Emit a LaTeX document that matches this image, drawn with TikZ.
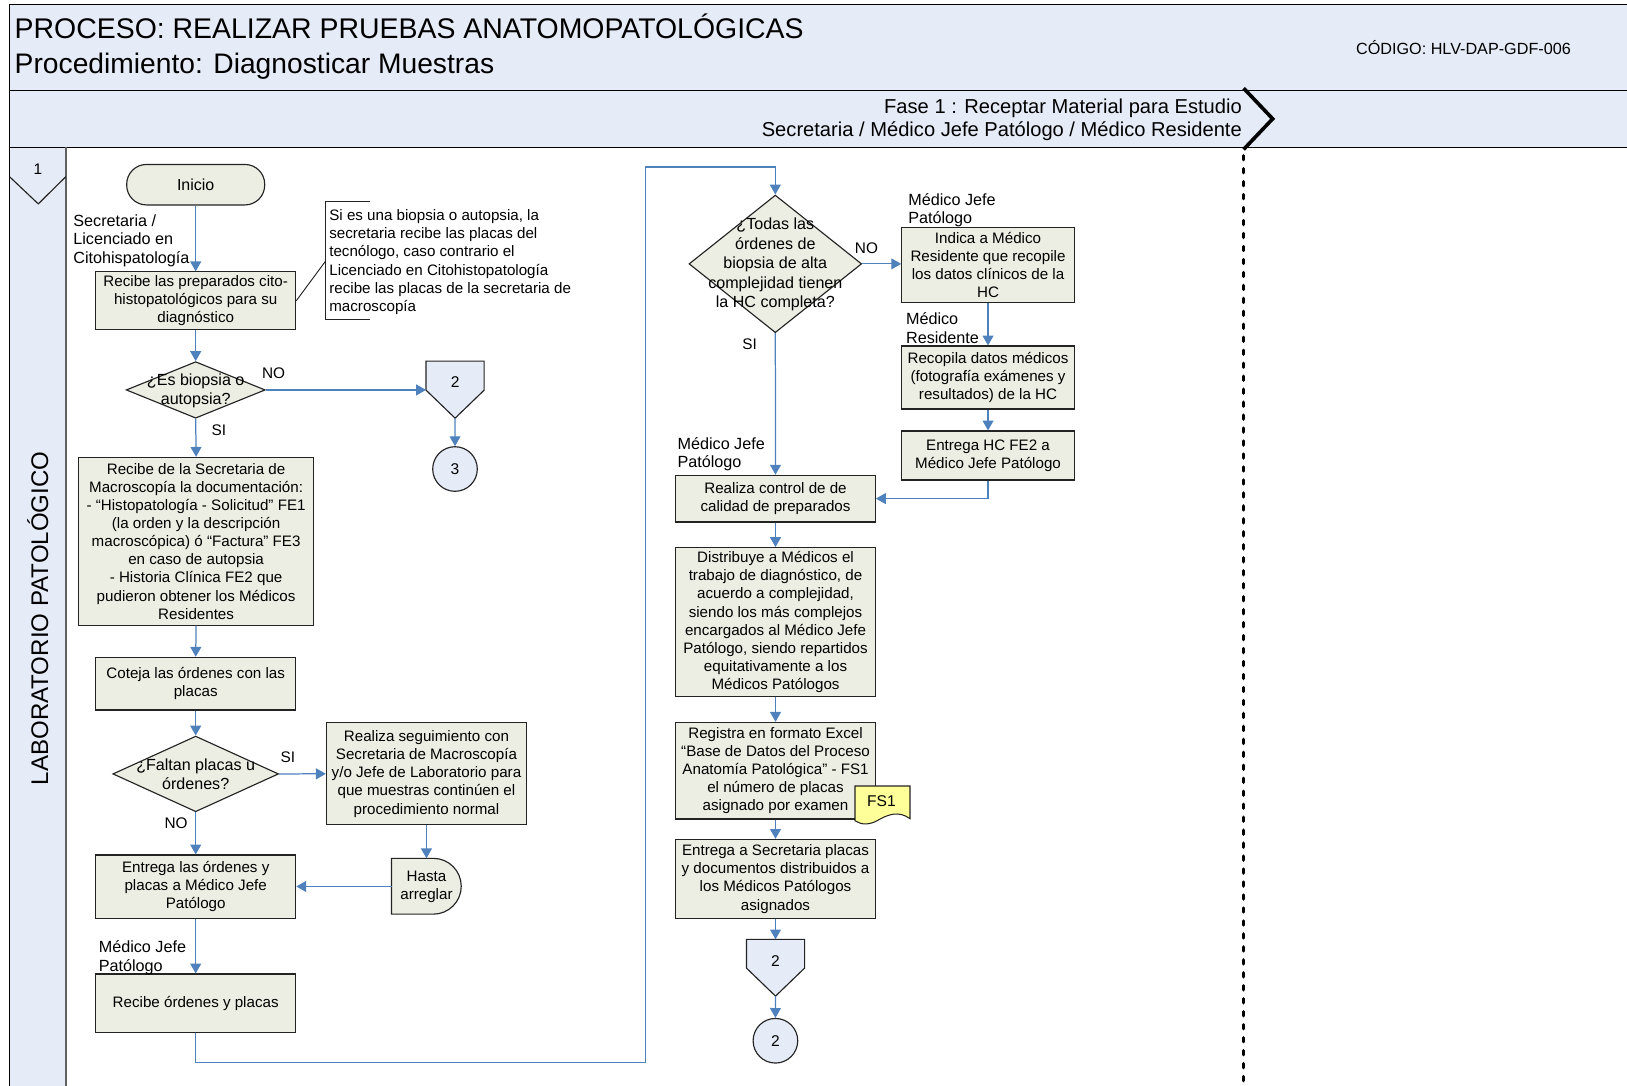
\documentclass[tikz,border=0pt]{standalone}
\usepackage{fontspec}
\setmainfont{Liberation Sans}
\usetikzlibrary{arrows.meta,shapes.geometric}

\definecolor{bandblue}{RGB}{230,236,247}
\definecolor{procfill}{RGB}{237,238,227}
\definecolor{flowblue}{RGB}{79,129,189}
\definecolor{docyellow}{RGB}{255,255,153}
\definecolor{edgegray}{RGB}{35,35,35}

\tikzset{
  bodytext/.style={font=\fontsize{14.6}{17.5}\selectfont},
  proc/.style={draw=edgegray, fill=procfill, line width=1.1pt, inner sep=0pt, align=center, bodytext},
  decision/.style={diamond, draw=edgegray, fill=procfill, line width=1.1pt, inner sep=0pt},
  dectext/.style={font=\fontsize{15.5}{18.8}\selectfont, align=center, inner sep=0pt},
  lbl/.style={anchor=west, align=left, inner sep=0pt, font=\fontsize{15.6}{18.2}\selectfont},
  tag/.style={inner sep=0pt, font=\fontsize{14.8}{17.5}\selectfont},
  flow/.style={draw=flowblue, line width=1.2pt, -{Triangle[length=9.5pt,width=10.5pt]}},
  conn/.style={circle, draw=edgegray, fill=bandblue, line width=1.1pt, inner sep=0pt, minimum size=43pt, font=\fontsize{15}{18}\selectfont},
  offpage/.style={draw=edgegray, fill=bandblue, line width=1.1pt},
  frame/.style={draw=black, line width=1.2pt},
}

\begin{document}
\begin{tikzpicture}[x=1pt,y=-1pt]
\useasboundingbox (0,0) rectangle (1568,1046);
\clip (0,0) rectangle (1568,1046);

% ---------- header bands and lane ----------
\fill[bandblue] (9,4) rectangle (1580,142);
\fill[bandblue] (9,142) rectangle (64,1060);
\draw[frame] (1580,4) -- (9,4) -- (9,1060);
\draw[frame] (9,87) -- (1580,87);
\draw[frame] (9,142) -- (1580,142);
\draw[gray!75!black, line width=2pt] (64,142) -- (64,1060);

\node[anchor=base west, inner sep=0pt, font=\fontsize{27.4}{32}\selectfont] (title) at (14,37.5) {PROCESO: REALIZAR PRUEBAS ANATOMOPATOLÓGICAS};
\node[anchor=base west, inner sep=0pt, font=\fontsize{27.2}{32}\selectfont] (subtitle) at (14,70.5) {Procedimiento: Diagnosticar Muestras};
\node[anchor=base east, inner sep=0pt, font=\fontsize{15.6}{18}\selectfont] (code) at (1514,52.5) {CÓDIGO: HLV-DAP-GDF-006};
\node[anchor=base east, inner sep=0pt, font=\fontsize{19.4}{22}\selectfont] (phase) at (1197,109) {Fase 1 : Receptar Material para Estudio};
\node[anchor=base east, inner sep=0pt, font=\fontsize{19.4}{22}\selectfont] (roles) at (1197,132) {Secretaria / Médico Jefe Patólogo / Médico Residente};

% phase chevron and phase boundary
\draw[line width=3.5pt, line join=miter] (1198.5,85) -- (1226.5,114.5) -- (1198.5,144);
\draw[line width=3.2pt, dash pattern=on 4pt off 8.5pt, line cap=round] (1198.5,150) -- (1198.5,1060);

% lane title
\node[rotate=90, inner sep=0pt, font=\fontsize{23.2}{26}\selectfont] (lane) at (36.5,596) {LABORATORIO PATOLÓGICO};
\node[tag] (lanenum) at (36.5,163) {1};
\draw[draw=edgegray, line width=1.1pt] (9.2,170.3) -- (36.9,196.5) -- (63.4,170.3);

% ---------- left column ----------
\node[proc, rounded corners=19pt, minimum width=133pt, minimum height=39pt, font=\fontsize{15.4}{18}\selectfont] (inicio) at (188.6,178) {Inicio};

\node[proc, minimum width=192.8pt, minimum height=55.5pt] (b1) at (188.6,289.8)
  {Recibe las preparados cito-\\histopatológicos para su\\diagnóstico};

\node[decision, minimum width=134pt, minimum height=54.5pt] (d1) at (188.6,375.8) {};
\node[dectext] (d1t) at (188.6,376.5) {¿Es biopsia o\\autopsia?};

\draw[offpage] (410.6,348) -- (466.6,348) -- (466.6,376) -- (438.6,403) -- (410.6,376) -- cycle;
\node[inner sep=0pt, font=\fontsize{15}{18}\selectfont] (off1) at (438.6,368.5) {2};
\coordinate (off1in) at (410.6,375.8);
\coordinate (off1tip) at (438.6,403);

\node[conn] (c3) at (438.5,452) {3};

\node[proc, minimum width=226.8pt, minimum height=161.6pt] (b2) at (189,521.6)
  {Recibe de la Secretaria de\\Macroscopía la documentación:\\- “Histopatología - Solicitud” FE1\\(la orden y la descripción\\macroscópica) ó “Factura” FE3\\en caso de autopsia\\- Historia Clínica FE2 que\\pudieron obtener los Médicos\\Residentes};

\node[proc, minimum width=192.8pt, minimum height=50.8pt] (b3) at (188.6,658.9)
  {Coteja las órdenes con las\\placas};

\node[decision, minimum width=159.7pt, minimum height=72.9pt] (d2) at (188.6,745.85) {};
\node[dectext] (d2t) at (188.6,746.2) {¿Faltan placas u\\órdenes?};

\node[proc, minimum width=192.9pt, minimum height=98.5pt] (b4) at (411,745.75)
  {Realiza seguimiento con\\Secretaria de Macroscopía\\y/o Jefe de Laboratorio para\\que muestras continúen el\\procedimiento normal};

% delay shape
\draw[draw=edgegray, fill=procfill, line width=1.1pt]
  (377.3,827.2) -- (417.6,827.2)
  .. controls (432.46,827.2) and (444.5,839.24) .. (444.5,854.1)
  .. controls (444.5,868.96) and (432.46,881) .. (417.6,881)
  -- (377.3,881) -- cycle;
\node[tag, align=center, font=\fontsize{14.6}{17.5}\selectfont] (delay) at (411,854.5) {Hasta\\arreglar};
\coordinate (delaytop) at (411,827.2);
\coordinate (delayleft) at (377.3,854.3);

\node[proc, minimum width=192.8pt, minimum height=61pt] (b5) at (188.6,854.5)
  {Entrega las órdenes y\\placas a Médico Jefe\\Patólogo};

\node[proc, minimum width=192.8pt, minimum height=56.3pt] (b6) at (188.6,966.85)
  {Recibe órdenes y placas};

% annotation
\node[lbl, font=\fontsize{14.6}{17.5}\selectfont] (note) at (317.2,252.6)
  {Si es una biopsia o autopsia, la\\secretaria recibe las placas del\\tecnólogo, caso contrario el\\Licenciado en Citohistopatología\\recibe las placas de la secretaria de\\macroscopía};
\coordinate (notemid) at (313.5,252);
\draw[draw=edgegray, line width=0.9pt] (357,194) -- (313.5,194) -- (313.5,307.5) -- (357,307.5);
\draw[draw=edgegray, line width=0.9pt] (b1.east) -- (notemid);

% ---------- right columns ----------
\node[decision, minimum width=166.4pt, minimum height=132.6pt] (d3) at (747.2,254.3) {};
\node[dectext] (d3t) at (747.2,255) {¿Todas las\\órdenes de\\biopsia de alta\\complejidad tienen\\la HC completa?};

\node[proc, minimum width=166.4pt, minimum height=72.4pt] (r1) at (952.2,255.2)
  {Indica a Médico\\Residente que recopile\\los datos clínicos de la\\HC};
\node[proc, minimum width=166.4pt, minimum height=60.7pt] (r2) at (952.2,363.85)
  {Recopila datos médicos\\(fotografía exámenes y\\resultados) de la HC};
\node[proc, minimum width=166.4pt, minimum height=47.2pt] (r3) at (952.2,439)
  {Entrega HC FE2 a\\Médico Jefe Patólogo};

\node[proc, minimum width=192.4pt, minimum height=45pt] (k1) at (747.4,480.5)
  {Realiza control de de\\calidad de preparados};
\node[proc, minimum width=192.4pt, minimum height=143.6pt] (k2) at (747.4,599.6)
  {Distribuye a Médicos el\\trabajo de diagnóstico, de\\acuerdo a complejidad,\\siendo los más complejos\\encargados al Médico Jefe\\Patólogo, siendo repartidos\\equitativamente a los\\Médicos Patólogos};
\node[proc, minimum width=192.4pt, minimum height=93.1pt] (k3) at (747.4,742.75)
  {Registra en formato Excel\\“Base de Datos del Proceso\\Anatomía Patológica” - FS1\\el número de placas\\asignado por examen};
\node[proc, minimum width=192.4pt, minimum height=76pt] (k4) at (747.4,847)
  {Entrega a Secretaria placas\\y documentos distribuidos a\\los Médicos Patólogos\\asignados};

% output document FS1
\draw[draw=edgegray, fill=docyellow, line width=1pt]
  (824,757.5) -- (877,757.5) -- (877,789)
  .. controls (866,781) and (856,785) .. (847,790)
  .. controls (838,795.5) and (830,795) .. (824,791) -- cycle;
\node[inner sep=0pt, font=\fontsize{15}{18}\selectfont] (fs1) at (849.5,772.5) {FS1};

\draw[offpage] (719.4,905.3) -- (775.4,905.3) -- (775.4,933) -- (747.4,960) -- (719.4,933) -- cycle;
\node[inner sep=0pt, font=\fontsize{15}{18}\selectfont] (off2) at (747.4,926) {2};
\coordinate (off2top) at (747.4,905.3);
\coordinate (off2tip) at (747.4,960);

\node[conn] (circ2) at (747.3,1003) {2};

% ---------- role and branch labels ----------
\node[lbl] (lsec) at (70.5,232) {Secretaria /\\Licenciado en\\Citohispatología};
\node[lbl] (lmjp1) at (95,922.8) {Médico Jefe\\Patólogo};
\node[lbl] (lmjp2) at (875.2,202.6) {Médico Jefe\\Patólogo};
\node[lbl] (lmr) at (873,316.2) {Médico\\Residente};
\node[lbl] (lmjp3) at (652.8,437.8) {Médico Jefe\\Patólogo};

\node[tag] (no1) at (263.7,359.5) {NO};
\node[tag] (si1) at (211,414.5) {SI};
\node[tag] (si2) at (277.5,730) {SI};
\node[tag] (no2) at (169.7,793) {NO};
\node[tag] (no3) at (835,239.4) {NO};
\node[tag] (si3) at (722.5,331.8) {SI};

% ---------- connectors ----------
\draw[flow] (inicio.south) -- (b1.north);
\draw[flow] (b1.south) -- (d1.north);
\draw[flow] (d1.east) -- (off1in);
\draw[flow] (off1tip) -- (c3.north);
\draw[flow] (d1.south) -- (b2.north);
\draw[flow] (b2.south) -- (b3.north);
\draw[flow] (b3.south) -- (d2.north);
\draw[flow] (d2.east) -- (b4.west);
\draw[flow] (d2.south) -- (b5.north);
\draw[flow] (b4.south) -- (delaytop);
\draw[flow] (delayleft) -- (delayleft -| b5.east);
\draw[flow] (b5.south) -- (b6.north);

\coordinate (loopA) at (622,1024);
\coordinate (loopB) at (622,161);
\draw[flow] (b6.south) |- (loopA) -- (loopB) -| (d3.north);

\draw[flow] (d3.east) -- (d3.east -| r1.west);
\draw[flow] (r1.south) -- (r2.north);
\draw[flow] (r2.south) -- (r3.north);
\draw[flow] (r3.south) |- (k1.east);
\draw[flow] (d3.south) -- (k1.north);
\draw[flow] (k1.south) -- (k2.north);
\draw[flow] (k2.south) -- (k3.north);
\draw[flow] (k3.south) -- (k4.north);
\draw[flow] (k4.south) -- (off2top);
\draw[flow] (off2tip) -- (circ2.north);

\end{tikzpicture}
\end{document}
